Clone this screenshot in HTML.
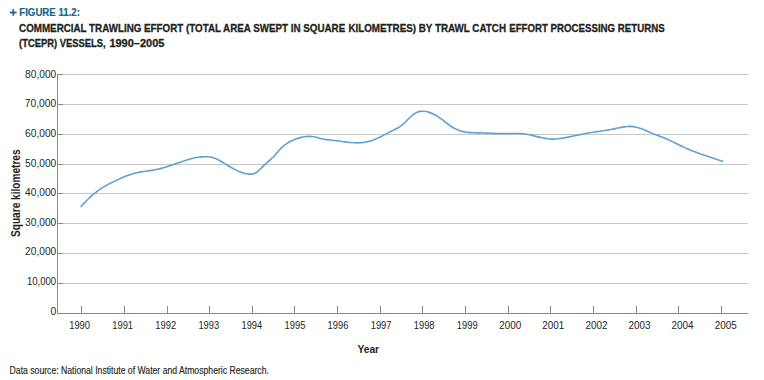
<!DOCTYPE html>
<html><head><meta charset="utf-8"><style>
html,body{margin:0;padding:0;background:#fff;width:764px;height:380px;overflow:hidden}
svg{display:block;font-family:"Liberation Sans", sans-serif}
</style></head><body>
<svg width="764" height="380" viewBox="0 0 764 380">
<rect x="63" y="74" width="685" height="1" fill="#c6c6c6"/>
<rect x="58" y="74" width="5" height="1" fill="#898989"/>
<rect x="63" y="104" width="685" height="1" fill="#c6c6c6"/>
<rect x="58" y="104" width="5" height="1" fill="#898989"/>
<rect x="63" y="134" width="685" height="1" fill="#c6c6c6"/>
<rect x="58" y="134" width="5" height="1" fill="#898989"/>
<rect x="63" y="164" width="685" height="1" fill="#c6c6c6"/>
<rect x="58" y="164" width="5" height="1" fill="#898989"/>
<rect x="63" y="193" width="685" height="1" fill="#c6c6c6"/>
<rect x="58" y="193" width="5" height="1" fill="#898989"/>
<rect x="63" y="223" width="685" height="1" fill="#c6c6c6"/>
<rect x="58" y="223" width="5" height="1" fill="#898989"/>
<rect x="63" y="253" width="685" height="1" fill="#c6c6c6"/>
<rect x="58" y="253" width="5" height="1" fill="#898989"/>
<rect x="63" y="283" width="685" height="1" fill="#c6c6c6"/>
<rect x="58" y="283" width="5" height="1" fill="#898989"/>
<rect x="57" y="74" width="1" height="240" fill="#898989"/>
<rect x="57" y="313" width="691" height="1" fill="#898989"/>
<rect x="81" y="306" width="1" height="7" fill="#898989"/>
<rect x="124" y="306" width="1" height="7" fill="#898989"/>
<rect x="167" y="306" width="1" height="7" fill="#898989"/>
<rect x="209" y="306" width="1" height="7" fill="#898989"/>
<rect x="252" y="306" width="1" height="7" fill="#898989"/>
<rect x="294" y="306" width="1" height="7" fill="#898989"/>
<rect x="337" y="306" width="1" height="7" fill="#898989"/>
<rect x="380" y="306" width="1" height="7" fill="#898989"/>
<rect x="422" y="306" width="1" height="7" fill="#898989"/>
<rect x="465" y="306" width="1" height="7" fill="#898989"/>
<rect x="508" y="306" width="1" height="7" fill="#898989"/>
<rect x="550" y="306" width="1" height="7" fill="#898989"/>
<rect x="593" y="306" width="1" height="7" fill="#898989"/>
<rect x="636" y="306" width="1" height="7" fill="#898989"/>
<rect x="678" y="306" width="1" height="7" fill="#898989"/>
<rect x="721" y="306" width="1" height="7" fill="#898989"/>
<text x="56.2" y="77.80" text-anchor="end" font-size="10.4" fill="#231f20" textLength="31.1" lengthAdjust="spacingAndGlyphs">80,000</text>
<text x="56.2" y="107.40" text-anchor="end" font-size="10.4" fill="#231f20" textLength="31.5" lengthAdjust="spacingAndGlyphs">70,000</text>
<text x="56.2" y="137.00" text-anchor="end" font-size="10.4" fill="#231f20" textLength="31.1" lengthAdjust="spacingAndGlyphs">60,000</text>
<text x="56.2" y="166.60" text-anchor="end" font-size="10.4" fill="#231f20" textLength="31.1" lengthAdjust="spacingAndGlyphs">50,000</text>
<text x="56.2" y="196.20" text-anchor="end" font-size="10.4" fill="#231f20" textLength="31.1" lengthAdjust="spacingAndGlyphs">40,000</text>
<text x="56.2" y="225.80" text-anchor="end" font-size="10.4" fill="#231f20" textLength="31.1" lengthAdjust="spacingAndGlyphs">30,000</text>
<text x="56.2" y="255.40" text-anchor="end" font-size="10.4" fill="#231f20" textLength="31.1" lengthAdjust="spacingAndGlyphs">20,000</text>
<text x="56.2" y="285.00" text-anchor="end" font-size="10.4" fill="#231f20" textLength="29.3" lengthAdjust="spacingAndGlyphs">10,000</text>
<text x="56.2" y="314.60" text-anchor="end" font-size="10.4" fill="#231f20" textLength="5.8" lengthAdjust="spacingAndGlyphs">0</text>
<text x="69.20" y="328.8" font-size="10.6" fill="#231f20" textLength="20.8" lengthAdjust="spacingAndGlyphs">1990</text>
<text x="112.27" y="328.8" font-size="10.6" fill="#231f20" textLength="20.8" lengthAdjust="spacingAndGlyphs">1991</text>
<text x="155.34" y="328.8" font-size="10.6" fill="#231f20" textLength="20.8" lengthAdjust="spacingAndGlyphs">1992</text>
<text x="198.41" y="328.8" font-size="10.6" fill="#231f20" textLength="20.8" lengthAdjust="spacingAndGlyphs">1993</text>
<text x="241.48" y="328.8" font-size="10.6" fill="#231f20" textLength="20.8" lengthAdjust="spacingAndGlyphs">1994</text>
<text x="284.55" y="328.8" font-size="10.6" fill="#231f20" textLength="20.8" lengthAdjust="spacingAndGlyphs">1995</text>
<text x="327.62" y="328.8" font-size="10.6" fill="#231f20" textLength="20.8" lengthAdjust="spacingAndGlyphs">1996</text>
<text x="370.69" y="328.8" font-size="10.6" fill="#231f20" textLength="20.8" lengthAdjust="spacingAndGlyphs">1997</text>
<text x="413.76" y="328.8" font-size="10.6" fill="#231f20" textLength="20.8" lengthAdjust="spacingAndGlyphs">1998</text>
<text x="456.83" y="328.8" font-size="10.6" fill="#231f20" textLength="20.8" lengthAdjust="spacingAndGlyphs">1999</text>
<text x="499.30" y="328.8" font-size="10.6" fill="#231f20" textLength="22.0" lengthAdjust="spacingAndGlyphs">2000</text>
<text x="542.37" y="328.8" font-size="10.6" fill="#231f20" textLength="22.0" lengthAdjust="spacingAndGlyphs">2001</text>
<text x="585.44" y="328.8" font-size="10.6" fill="#231f20" textLength="22.0" lengthAdjust="spacingAndGlyphs">2002</text>
<text x="628.51" y="328.8" font-size="10.6" fill="#231f20" textLength="22.0" lengthAdjust="spacingAndGlyphs">2003</text>
<text x="671.58" y="328.8" font-size="10.6" fill="#231f20" textLength="22.0" lengthAdjust="spacingAndGlyphs">2004</text>
<text x="714.65" y="328.8" font-size="10.6" fill="#231f20" textLength="22.0" lengthAdjust="spacingAndGlyphs">2005</text>
<path d="M81.20 206.35 C81.70 205.81 83.20 204.15 84.20 203.09 C85.20 202.04 86.20 201.01 87.20 200.02 C88.20 199.03 89.20 198.07 90.20 197.15 C91.20 196.22 92.20 195.33 93.20 194.48 C94.20 193.63 95.20 192.81 96.20 192.03 C97.20 191.26 98.20 190.52 99.20 189.82 C100.20 189.11 101.20 188.45 102.20 187.82 C103.20 187.19 104.20 186.59 105.20 186.02 C106.20 185.44 107.20 184.90 108.20 184.37 C109.20 183.84 110.20 183.33 111.20 182.84 C112.20 182.34 113.20 181.86 114.20 181.39 C115.20 180.92 116.20 180.46 117.20 180.00 C118.20 179.54 119.20 179.08 120.20 178.63 C121.20 178.18 122.20 177.73 123.20 177.30 C124.20 176.87 125.20 176.45 126.20 176.05 C127.20 175.64 128.20 175.26 129.20 174.90 C130.20 174.54 131.20 174.20 132.20 173.90 C133.20 173.60 134.20 173.33 135.20 173.08 C136.20 172.83 137.20 172.62 138.20 172.42 C139.20 172.23 140.20 172.05 141.20 171.89 C142.20 171.72 143.20 171.58 144.20 171.43 C145.20 171.29 146.20 171.16 147.20 171.02 C148.20 170.88 149.20 170.74 150.20 170.60 C151.20 170.45 152.20 170.30 153.20 170.13 C154.20 169.96 155.20 169.79 156.20 169.58 C157.20 169.38 158.20 169.16 159.20 168.91 C160.20 168.67 161.20 168.41 162.20 168.13 C163.20 167.86 164.20 167.56 165.20 167.26 C166.20 166.95 167.20 166.63 168.20 166.31 C169.20 165.98 170.20 165.64 171.20 165.30 C172.20 164.96 173.20 164.62 174.20 164.27 C175.20 163.92 176.20 163.57 177.20 163.22 C178.20 162.87 179.20 162.52 180.20 162.18 C181.20 161.84 182.20 161.50 183.20 161.17 C184.20 160.85 185.20 160.52 186.20 160.22 C187.20 159.91 188.20 159.61 189.20 159.33 C190.20 159.04 191.20 158.77 192.20 158.53 C193.20 158.28 194.20 158.05 195.20 157.84 C196.20 157.63 197.20 157.44 198.20 157.28 C199.20 157.12 200.20 156.98 201.20 156.88 C202.20 156.79 203.20 156.71 204.20 156.69 C205.20 156.66 206.20 156.67 207.20 156.74 C208.20 156.81 209.20 156.91 210.20 157.08 C211.20 157.25 212.20 157.47 213.20 157.77 C214.20 158.06 215.20 158.41 216.20 158.83 C217.20 159.25 218.20 159.76 219.20 160.29 C220.20 160.81 221.20 161.41 222.20 162.01 C223.20 162.60 224.20 163.24 225.20 163.86 C226.20 164.47 227.20 165.09 228.20 165.70 C229.20 166.30 230.20 166.90 231.20 167.47 C232.20 168.04 233.20 168.60 234.20 169.12 C235.20 169.65 236.20 170.16 237.20 170.62 C238.20 171.09 239.20 171.52 240.20 171.91 C241.20 172.30 242.20 172.66 243.20 172.95 C244.20 173.25 245.20 173.51 246.20 173.70 C247.20 173.89 248.20 174.04 249.20 174.10 C250.20 174.16 251.20 174.19 252.20 174.03 C253.20 173.88 254.20 173.64 255.20 173.16 C256.20 172.68 257.20 171.98 258.20 171.15 C259.20 170.33 260.20 169.23 261.20 168.23 C262.20 167.22 263.20 166.09 264.20 165.12 C265.20 164.15 266.20 163.29 267.20 162.42 C268.20 161.56 269.20 160.80 270.20 159.90 C271.20 159.00 272.20 158.08 273.20 157.03 C274.20 155.99 275.20 154.78 276.20 153.64 C277.20 152.49 278.20 151.26 279.20 150.17 C280.20 149.07 281.20 148.00 282.20 147.07 C283.20 146.14 284.20 145.31 285.20 144.57 C286.20 143.82 287.20 143.19 288.20 142.60 C289.20 142.00 290.20 141.49 291.20 141.00 C292.20 140.51 293.20 140.05 294.20 139.64 C295.20 139.22 296.20 138.84 297.20 138.50 C298.20 138.16 299.20 137.86 300.20 137.61 C301.20 137.35 302.20 137.13 303.20 136.95 C304.20 136.78 305.20 136.64 306.20 136.55 C307.20 136.46 308.20 136.41 309.20 136.41 C310.20 136.41 311.20 136.44 312.20 136.54 C313.20 136.64 314.20 136.80 315.20 137.02 C316.20 137.23 317.20 137.55 318.20 137.82 C319.20 138.10 320.20 138.44 321.20 138.69 C322.20 138.94 323.20 139.15 324.20 139.31 C325.20 139.48 326.20 139.56 327.20 139.67 C328.20 139.77 329.20 139.84 330.20 139.93 C331.20 140.03 332.20 140.14 333.20 140.25 C334.20 140.37 335.20 140.50 336.20 140.64 C337.20 140.77 338.20 140.92 339.20 141.06 C340.20 141.20 341.20 141.35 342.20 141.49 C343.20 141.63 344.20 141.77 345.20 141.90 C346.20 142.03 347.20 142.16 348.20 142.27 C349.20 142.38 350.20 142.49 351.20 142.57 C352.20 142.65 353.20 142.72 354.20 142.77 C355.20 142.81 356.20 142.84 357.20 142.84 C358.20 142.84 359.20 142.82 360.20 142.76 C361.20 142.71 362.20 142.63 363.20 142.51 C364.20 142.39 365.20 142.24 366.20 142.04 C367.20 141.85 368.20 141.62 369.20 141.34 C370.20 141.07 371.20 140.75 372.20 140.40 C373.20 140.04 374.20 139.65 375.20 139.23 C376.20 138.81 377.20 138.36 378.20 137.89 C379.20 137.42 380.20 136.93 381.20 136.43 C382.20 135.94 383.20 135.42 384.20 134.90 C385.20 134.39 386.20 133.87 387.20 133.35 C388.20 132.84 389.20 132.33 390.20 131.83 C391.20 131.33 392.20 130.85 393.20 130.35 C394.20 129.85 395.20 129.36 396.20 128.81 C397.20 128.26 398.20 127.70 399.20 127.05 C400.20 126.40 401.20 125.73 402.20 124.93 C403.20 124.12 404.20 123.19 405.20 122.23 C406.20 121.27 407.20 120.17 408.20 119.18 C409.20 118.18 410.20 117.14 411.20 116.25 C412.20 115.37 413.20 114.54 414.20 113.87 C415.20 113.20 416.20 112.64 417.20 112.22 C418.20 111.81 419.20 111.54 420.20 111.37 C421.20 111.19 422.20 111.15 423.20 111.19 C424.20 111.22 425.20 111.37 426.20 111.57 C427.20 111.76 428.20 112.05 429.20 112.38 C430.20 112.71 431.20 113.11 432.20 113.55 C433.20 114.00 434.20 114.50 435.20 115.05 C436.20 115.60 437.20 116.20 438.20 116.84 C439.20 117.47 440.20 118.16 441.20 118.87 C442.20 119.58 443.20 120.35 444.20 121.11 C445.20 121.88 446.20 122.70 447.20 123.47 C448.20 124.24 449.20 125.03 450.20 125.74 C451.20 126.45 452.20 127.14 453.20 127.73 C454.20 128.32 455.20 128.84 456.20 129.29 C457.20 129.75 458.20 130.14 459.20 130.49 C460.20 130.83 461.20 131.12 462.20 131.36 C463.20 131.61 464.20 131.81 465.20 131.98 C466.20 132.15 467.20 132.27 468.20 132.38 C469.20 132.49 470.20 132.56 471.20 132.62 C472.20 132.69 473.20 132.72 474.20 132.76 C475.20 132.79 476.20 132.81 477.20 132.83 C478.20 132.86 479.20 132.88 480.20 132.91 C481.20 132.93 482.20 132.97 483.20 133.00 C484.20 133.04 485.20 133.08 486.20 133.12 C487.20 133.16 488.20 133.20 489.20 133.24 C490.20 133.29 491.20 133.33 492.20 133.37 C493.20 133.40 494.20 133.44 495.20 133.47 C496.20 133.50 497.20 133.53 498.20 133.55 C499.20 133.58 500.20 133.59 501.20 133.60 C502.20 133.61 503.20 133.60 504.20 133.59 C505.20 133.59 506.20 133.57 507.20 133.55 C508.20 133.53 509.20 133.51 510.20 133.49 C511.20 133.47 512.20 133.45 513.20 133.45 C514.20 133.44 515.20 133.44 516.20 133.45 C517.20 133.46 518.20 133.49 519.20 133.53 C520.20 133.57 521.20 133.63 522.20 133.71 C523.20 133.80 524.20 133.90 525.20 134.03 C526.20 134.16 527.20 134.33 528.20 134.51 C529.20 134.69 530.20 134.91 531.20 135.13 C532.20 135.36 533.20 135.61 534.20 135.85 C535.20 136.10 536.20 136.36 537.20 136.61 C538.20 136.86 539.20 137.12 540.20 137.36 C541.20 137.59 542.20 137.83 543.20 138.03 C544.20 138.23 545.20 138.43 546.20 138.58 C547.20 138.73 548.20 138.87 549.20 138.95 C550.20 139.04 551.20 139.08 552.20 139.09 C553.20 139.10 554.20 139.07 555.20 139.01 C556.20 138.96 557.20 138.86 558.20 138.75 C559.20 138.64 560.20 138.50 561.20 138.34 C562.20 138.19 563.20 138.02 564.20 137.84 C565.20 137.66 566.20 137.47 567.20 137.27 C568.20 137.08 569.20 136.87 570.20 136.67 C571.20 136.47 572.20 136.26 573.20 136.05 C574.20 135.84 575.20 135.63 576.20 135.42 C577.20 135.21 578.20 134.99 579.20 134.79 C580.20 134.58 581.20 134.37 582.20 134.17 C583.20 133.97 584.20 133.77 585.20 133.58 C586.20 133.39 587.20 133.21 588.20 133.03 C589.20 132.86 590.20 132.69 591.20 132.53 C592.20 132.37 593.20 132.22 594.20 132.07 C595.20 131.92 596.20 131.78 597.20 131.64 C598.20 131.49 599.20 131.35 600.20 131.21 C601.20 131.07 602.20 130.93 603.20 130.78 C604.20 130.63 605.20 130.48 606.20 130.33 C607.20 130.17 608.20 130.00 609.20 129.83 C610.20 129.65 611.20 129.46 612.20 129.27 C613.20 129.07 614.20 128.85 615.20 128.64 C616.20 128.42 617.20 128.19 618.20 127.97 C619.20 127.76 620.20 127.54 621.20 127.35 C622.20 127.16 623.20 126.98 624.20 126.84 C625.20 126.70 626.20 126.57 627.20 126.50 C628.20 126.43 629.20 126.39 630.20 126.41 C631.20 126.43 632.20 126.50 633.20 126.63 C634.20 126.76 635.20 126.96 636.20 127.19 C637.20 127.43 638.20 127.72 639.20 128.04 C640.20 128.36 641.20 128.72 642.20 129.10 C643.20 129.48 644.20 129.89 645.20 130.31 C646.20 130.72 647.20 131.16 648.20 131.59 C649.20 132.02 650.20 132.46 651.20 132.88 C652.20 133.30 653.20 133.72 654.20 134.12 C655.20 134.52 656.20 134.90 657.20 135.29 C658.20 135.67 659.20 136.05 660.20 136.43 C661.20 136.82 662.20 137.20 663.20 137.59 C664.20 137.99 665.20 138.39 666.20 138.81 C667.20 139.23 668.20 139.67 669.20 140.13 C670.20 140.59 671.20 141.07 672.20 141.56 C673.20 142.05 674.20 142.56 675.20 143.07 C676.20 143.57 677.20 144.08 678.20 144.57 C679.20 145.06 680.20 145.54 681.20 146.01 C682.20 146.48 683.20 146.94 684.20 147.39 C685.20 147.84 686.20 148.27 687.20 148.70 C688.20 149.13 689.20 149.54 690.20 149.95 C691.20 150.36 692.20 150.76 693.20 151.15 C694.20 151.55 695.20 151.93 696.20 152.31 C697.20 152.69 698.20 153.06 699.20 153.42 C700.20 153.79 701.20 154.15 702.20 154.50 C703.20 154.85 704.20 155.20 705.20 155.55 C706.20 155.89 707.20 156.24 708.20 156.57 C709.20 156.91 710.20 157.25 711.20 157.58 C712.20 157.92 713.20 158.25 714.20 158.58 C715.20 158.91 716.20 159.24 717.20 159.56 C718.20 159.89 719.30 160.26 720.20 160.55 C721.10 160.85 722.20 161.21 722.60 161.34" fill="none" stroke="#5fa0d6" stroke-width="1.6" stroke-linecap="round" stroke-linejoin="round"/>
<rect x="10" y="11.7" width="6.6" height="1.7" fill="#1b6686"/>
<rect x="12.45" y="9.2" width="1.7" height="6.6" fill="#1b6686"/>
<text x="19.3" y="15.8" font-size="10.6" font-weight="bold" fill="#1b6686" stroke="#1b6686" stroke-width="0.2" textLength="60.6" lengthAdjust="spacingAndGlyphs">FIGURE 11.2:</text>
<text x="19.1" y="31.8" font-size="10.7" font-weight="bold" fill="#231f20" stroke="#231f20" stroke-width="0.3" textLength="326.1" lengthAdjust="spacingAndGlyphs">COMMERCIAL TRAWLING EFFORT (TOTAL AREA SWEPT IN SQUARE</text>
<text x="348.4" y="31.8" font-size="10.7" font-weight="bold" fill="#231f20" stroke="#231f20" stroke-width="0.3" textLength="157.6" lengthAdjust="spacingAndGlyphs">KILOMETRES) BY TRAWL CATCH</text>
<text x="509.2" y="31.8" font-size="10.7" font-weight="bold" fill="#231f20" stroke="#231f20" stroke-width="0.3" textLength="155.4" lengthAdjust="spacingAndGlyphs">EFFORT PROCESSING RETURNS</text>
<text x="19.1" y="47" font-size="10.7" font-weight="bold" fill="#231f20" stroke="#231f20" stroke-width="0.3" textLength="86.6" lengthAdjust="spacingAndGlyphs">(TCEPR) VESSELS,</text>
<text x="109.4" y="47" font-size="10.7" font-weight="bold" fill="#231f20" stroke="#231f20" stroke-width="0.3" textLength="55" lengthAdjust="spacingAndGlyphs">1990–2005</text>
<text x="357.4" y="352.7" font-size="10.6" font-weight="bold" fill="#231f20" textLength="21.7" lengthAdjust="spacingAndGlyphs">Year</text>
<text transform="translate(20.4 237.0) rotate(-90)" x="0" y="0" font-size="12" font-weight="bold" fill="#231f20" textLength="87.6" lengthAdjust="spacingAndGlyphs">Square kilometres</text>
<text x="9.6" y="374" font-size="10" fill="#231f20" stroke="#231f20" stroke-width="0.15" textLength="259.3" lengthAdjust="spacingAndGlyphs">Data source: National Institute of Water and Atmospheric Research.</text>
</svg>
</body></html>
